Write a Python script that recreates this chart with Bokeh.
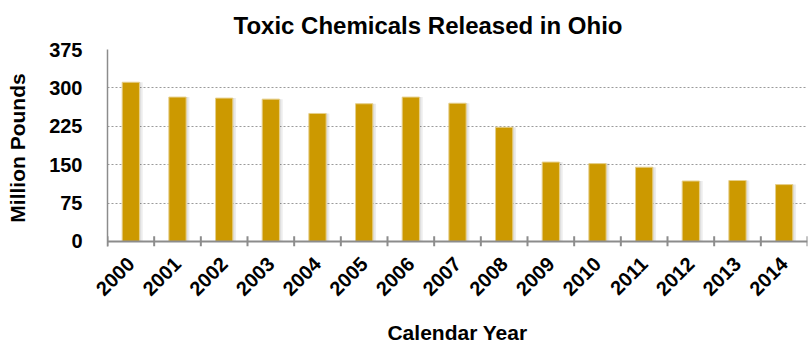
import math

from bokeh.plotting import figure
from bokeh.models import (ColumnDataSource, FactorRange, Range1d, FixedTicker, Span)
from bokeh.transform import dodge
from bokeh.embed import file_html
from bokeh.resources import INLINE

# Annual toxic chemical releases in Ohio (million pounds)
years = ["2000", "2001", "2002", "2003", "2004", "2005", "2006", "2007",
         "2008", "2009", "2010", "2011", "2012", "2013", "2014"]
releases = [311, 282, 280, 278, 250, 269, 282, 270, 223, 155, 152, 145, 118, 119, 111]
y_ticks = [0, 75, 150, 225, 300, 375]
title_text = "Toxic Chemicals Released in Ohio"

FONT = "Liberation Sans"
AXIS_GRAY = "#8c8c8c"
BAR_GOLD = "#cc9900"
BAR_W = 0.37
TICK_HALF = 10   # half length of the slot-boundary ticks, in value units

src = ColumnDataSource(dict(year=years, value=releases))

p = figure(width=809, height=347,
           x_range=FactorRange(*years), y_range=Range1d(-TICK_HALF, y_ticks[-1]),
           output_backend="svg", toolbar_location=None,
           min_border_left=107, min_border_right=2,
           min_border_top=49, min_border_bottom=101)
p.outline_line_color = None
p.background_fill_color = "white"
p.border_fill_color = "white"

# title
p.title.text = title_text
p.title.align = "left"
p.title.offset = 126
p.title.vertical_align = "top"
p.title.text_font = FONT
p.title.text_font_size = "24px"
p.title.text_font_style = "bold"
p.title.text_color = "black"
p.title.standoff = 18

# gridlines
p.ygrid.ticker = FixedTicker(ticks=y_ticks[1:])
p.ygrid.grid_line_color = "#9a9a9a"
p.ygrid.grid_line_dash = "2 2"
p.ygrid.grid_line_width = 1
p.xgrid.visible = False

# soft drop shadow behind each bar
p.vbar(x=dodge("year", 0.035, range=p.x_range), top="value", width=BAR_W + 0.07,
       source=src, fill_color="black", fill_alpha=0.07, line_color=None)
p.vbar(x=dodge("year", 0.02, range=p.x_range), top="value", width=BAR_W + 0.03,
       source=src, fill_color="black", fill_alpha=0.06, line_color=None)
# bars
p.vbar(x="year", top="value", width=BAR_W, source=src,
       fill_color=BAR_GOLD, line_color="#e6cf8a", line_width=1)

# baseline and boundary ticks between the year slots
p.add_layout(Span(location=0, dimension="width", line_color=AXIS_GRAY, line_width=2))
p.segment(x0=dodge("year", -0.5, range=p.x_range), x1=dodge("year", -0.5, range=p.x_range),
          y0=-TICK_HALF, y1=TICK_HALF, source=src, line_color=AXIS_GRAY, line_width=2)
p.segment(x0=dodge("year", 0.5, range=p.x_range), x1=dodge("year", 0.5, range=p.x_range),
          y0=-TICK_HALF, y1=TICK_HALF, source=ColumnDataSource(dict(year=years[-1:])),
          line_color=AXIS_GRAY, line_width=2)

# y axis
ya = p.yaxis[0]
ya.ticker = FixedTicker(ticks=y_ticks)
ya.axis_line_color = AXIS_GRAY
ya.axis_line_width = 1.5
ya.major_tick_line_color = None
ya.minor_tick_line_color = None
ya.major_label_standoff = 19
ya.major_label_text_font = FONT
ya.major_label_text_font_size = "20px"
ya.major_label_text_font_style = "bold"
ya.major_label_text_color = "black"
ya.axis_label = "Million Pounds"
ya.axis_label_text_font = FONT
ya.axis_label_text_font_size = "21px"
ya.axis_label_text_font_style = "bold"
ya.axis_label_text_color = "black"
ya.axis_label_standoff = 17

# year labels
xa = p.xaxis[0]
xa.axis_line_color = None
xa.major_tick_line_color = None
xa.minor_tick_line_color = None
xa.major_label_orientation = math.pi / 4
xa.major_label_standoff = 8
xa.major_label_text_font = FONT
xa.major_label_text_font_size = "20px"
xa.major_label_text_font_style = "bold"
xa.major_label_text_color = "black"
xa.axis_label = "Calendar Year"
xa.axis_label_text_font = FONT
xa.axis_label_text_font_size = "21px"
xa.axis_label_text_font_style = "bold"
xa.axis_label_text_color = "black"
xa.axis_label_standoff = 16

open("out.html", "w").write(file_html(p, INLINE))
